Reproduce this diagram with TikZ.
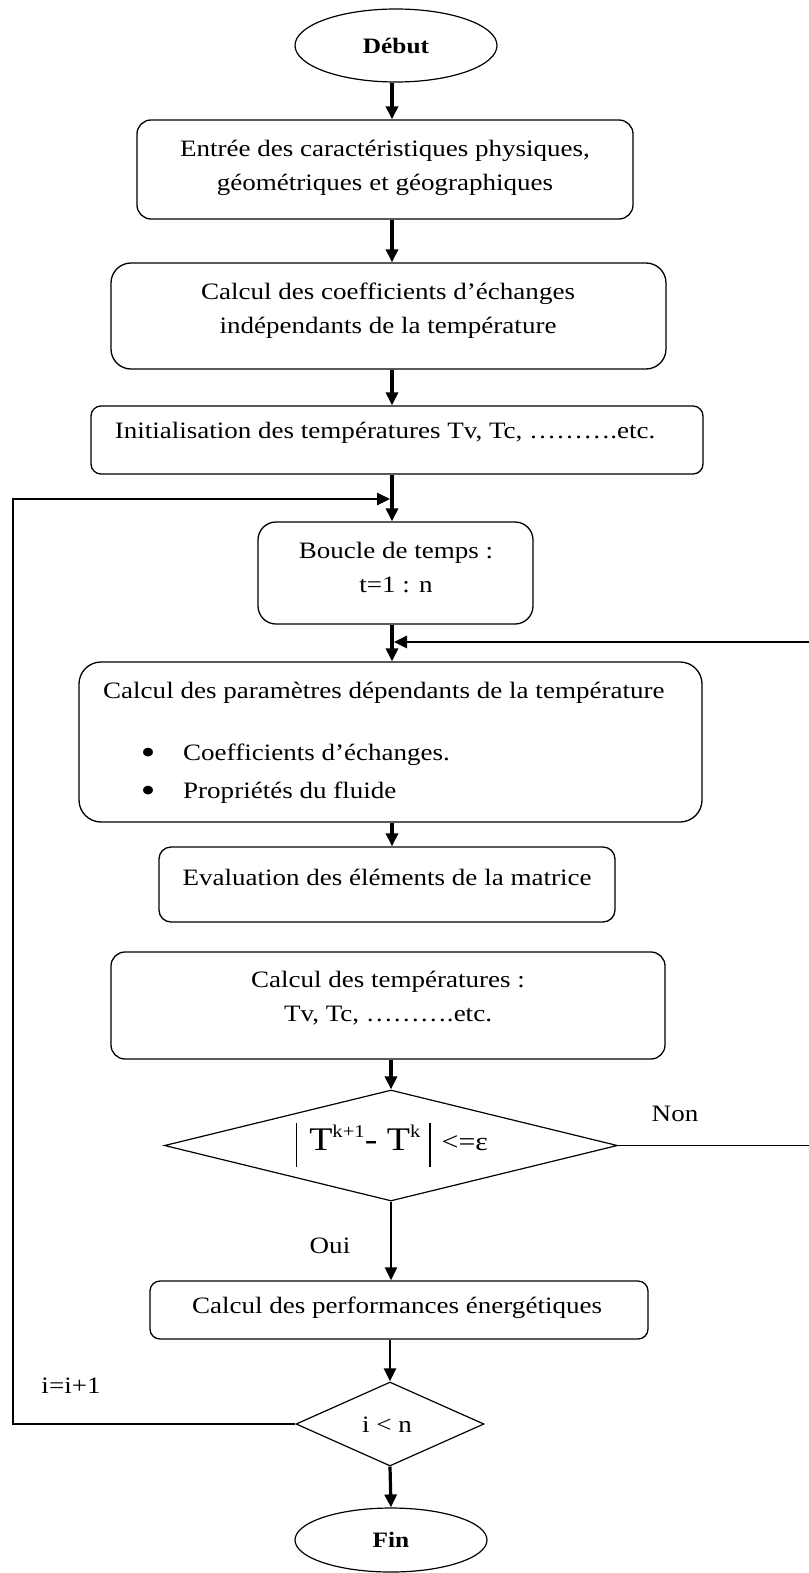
\documentclass[tikz,border=0pt]{standalone}
\usepackage{fontspec}
\setmainfont{Liberation Serif}[FakeStretch=1.15]
\usetikzlibrary{shapes.geometric,arrows.meta}
\begin{document}
\begin{tikzpicture}[x=1pt,y=-1pt,
  txt/.style={inner sep=0pt, font=\fontsize{23.5}{34}\selectfont, align=center},
  bul/.style={inner sep=0pt, font=\fontsize{36}{36}\selectfont},
  rbox/.style={draw, line width=1.3pt, inner sep=0pt, rounded corners=#1},
  rbox/.default=14pt,
  term/.style={draw, ellipse, line width=1.2pt, inner sep=0pt, font=\fontsize{22}{24}\selectfont\bfseries},
  dec/.style={draw, diamond, line width=1.2pt, inner sep=0pt},
  arr/.style={line width=#1, -{Triangle[length=13pt,width=12pt]}},
  arr/.default=3.5pt,
  thinline/.style={line width=1.5pt},
]
\useasboundingbox (0,0) rectangle (808,1573);

\coordinate (colx) at (392,0);

% nodes
\node[term, minimum width=202pt, minimum height=73pt] (debut) at (396,45.5) {Début};

\node[rbox=14pt, minimum width=496pt, minimum height=99pt] (entree) at (385,169.5) {};
\node[txt] (entreeT) at (385,167.5) {Entrée des caractéristiques physiques,\\géométriques et géographiques};

\node[rbox=20pt, minimum width=555pt, minimum height=106pt] (coef) at (388.5,316) {};
\node[txt] (coefT) at (388,310.5) {Calcul des coefficients d’échanges\\indépendants de la température};

\node[rbox=10pt, minimum width=612pt, minimum height=68pt] (init) at (397,440) {};
\node[txt] (initT) at (385,433) {Initialisation des températures Tv, Tc, ……….etc.};

\node[rbox=18pt, minimum width=275pt, minimum height=102pt] (boucle) at (395.5,573) {};
\node[txt] (boucleT) at (396,568) {Boucle de temps :\\t=1 : n};

\node[rbox=22pt, minimum width=623pt, minimum height=160pt] (params) at (390.5,742) {};
\node[txt, anchor=west] (paramsT) at (103,693) {Calcul des paramètres dépendants de la température};
\node[bul] (bul1) at (148,756) {•};
\node[txt, anchor=west] (item1) at (183,755) {Coefficients d’échanges.};
\node[bul] (bul2) at (148,794) {•};
\node[txt, anchor=west] (item2) at (183,793) {Propriétés du fluide};

\node[rbox=12pt, minimum width=456pt, minimum height=75pt] (eval) at (387,884.5) {};
\node[txt] (evalT) at (387,877) {Evaluation des éléments de la matrice};

\node[rbox=14pt, minimum width=554pt, minimum height=107pt] (calct) at (388,1005.5) {};
\node[txt] (calctT) at (388,998) {Calcul des températures :\\Tv, Tc, ……….etc.};

\node[dec, minimum width=453pt, minimum height=111pt] (d1) at (391,1145.5) {};
\node[anchor=base, inner sep=0pt] (d1T) at (392,1150) {\rule[-17pt]{1.2pt}{44pt}\hspace{12pt}{\fontsize{33}{36}\selectfont T}\raisebox{13pt}{\fontsize{18}{20}\selectfont k+1}{\fontsize{33}{36}\selectfont - T}\raisebox{13pt}{\fontsize{18}{20}\selectfont k}\hspace{9pt}\rule[-17pt]{1.2pt}{44pt}\hspace{11pt}{\fontsize{26}{30}\selectfont <=ε}};

\node[txt] (non) at (675,1114) {Non};
\node[txt] (oui) at (330,1246) {Oui};

\node[rbox=10pt, minimum width=498pt, minimum height=58pt] (perf) at (399,1310) {};
\node[txt] (perfT) at (397,1308) {Calcul des performances énergétiques};

\node[dec, minimum width=188pt, minimum height=84pt] (d2) at (390,1424) {};
\node[txt] (d2T) at (387,1425) {i < n};

\node[txt] (incr) at (71,1386) {i=i+1};

\node[term, minimum width=192pt, minimum height=64pt] (fin) at (391,1540) {Fin};

% main arrows
\draw[arr] (debut.south -| colx) -- (entree.north -| colx);
\draw[arr] (entree.south -| colx) -- (coef.north -| colx);
\draw[arr] (coef.south -| colx) -- (init.north -| colx);
\draw[arr] (init.south -| colx) -- (boucle.north -| colx);
\draw[arr] (boucle.south -| colx) -- (params.north -| colx);
\draw[arr=3.2pt] (params.south -| colx) -- (eval.north -| colx);
\draw[arr] (calct.south -| d1.north) -- (d1.north);
\draw[arr=2.4pt] (d1.south) -- (perf.north -| d1.south);
\draw[arr=2.7pt] (perf.south -| d2.north) -- (d2.north);
\draw[arr=3.2pt] (d2.south) -- (fin.north);

% outer loop (i)
\coordinate (lc1) at (13,1424);
\coordinate (lc2) at (13,499);
\coordinate (lc3) at (12.2,499);
\coordinate (lin) at (390,499);
\draw[thinline] (d2.west) -- (lc1) -- (lc2);
\draw[arr=2.8pt] (lc3) -- (lin);

% inner loop (convergence)
\coordinate (rc1) at (822,1145.5);
\coordinate (rc2) at (822,642);
\coordinate (rin) at (394,642);
\draw[line width=1.3pt] (d1.east) -- (rc1) -- (rc2);
\draw[arr=2.8pt] (rc2) -- (rin);
\end{tikzpicture}
\end{document}
